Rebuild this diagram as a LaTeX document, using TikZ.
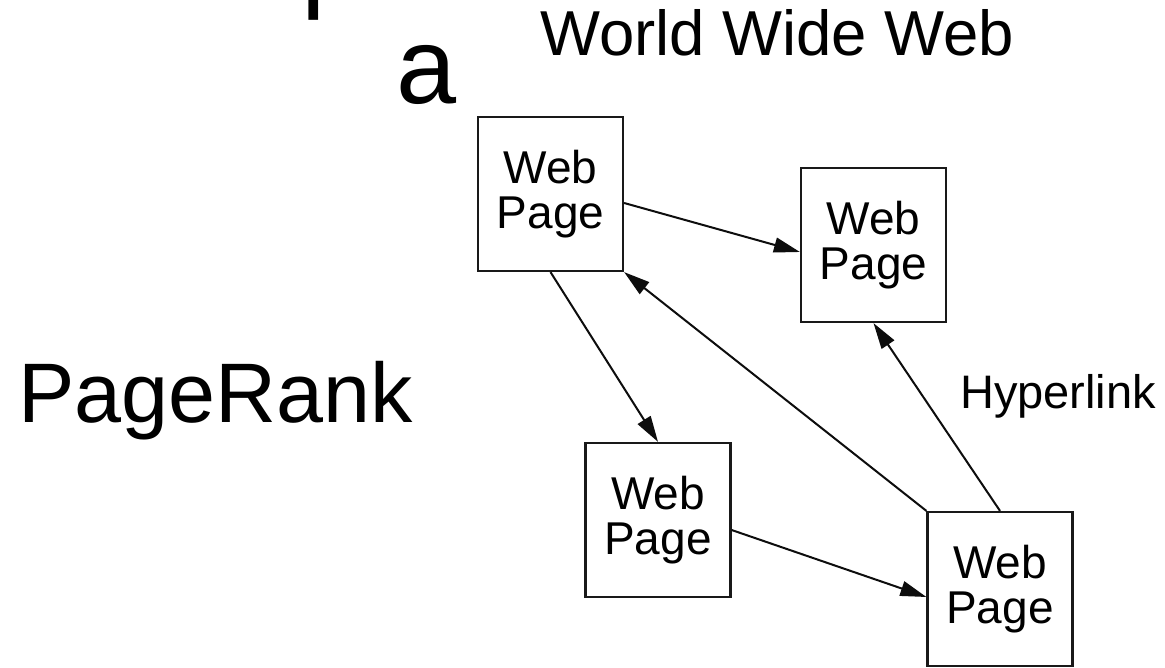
\documentclass[tikz,border=0pt]{standalone}
\usepackage{fontspec}
\setmainfont{Liberation Sans}
\usetikzlibrary{arrows.meta}
\begin{document}
\begin{tikzpicture}[x=1pt,y=1pt,
  pagebox/.style={draw=black!90, line width=2.2pt, fill=white,
    minimum width=145pt, minimum height=154pt, inner sep=0pt,
    align=center, font=\fontsize{46}{45.5}\selectfont},
  hlink/.style={draw=black!95, line width=2pt,
    -{Triangle[length=26pt,width=15pt]}},
  label/.style={anchor=base west, inner sep=0pt, text=black},
]
\clip (0,0) rectangle (1165,668);
\fill[white] (0,0) rectangle (1165,668);

% slide title (runs past the top edge)
\node[label, font=\fontsize{110}{112}\selectfont] (title) at (130,670) {Properties of the Web};
\node[label, font=\fontsize{108}{110}\selectfont] (tail) at (396,564) {a};
\node[label, font=\fontsize{84.5}{85}\selectfont] (pr) at (18,245) {PageRank};

% figure: the web as a graph of pages
\node[label, font=\fontsize{63.5}{64}\selectfont] (www) at (540,612) {World Wide Web};

\node[pagebox] (p1) at (550.5,474) {Web\\Page};
\node[pagebox] (p2) at (873.5,423) {Web\\Page};
\node[pagebox] (p3) at (658,148) {Web\\Page};
\node[pagebox] (p4) at (1000,79) {Web\\Page};

\draw[hlink] ([yshift=-9pt]p1.east) -- ([yshift=-7pt]p2.west);
\draw[hlink] (p1.south) -- (p3.north);
\draw[hlink] (p4.north west) -- (p1.south east);
\draw[hlink] (p4.north) -- (p2.south);
\draw[hlink] ([yshift=-10pt]p3.east) -- ([yshift=-8pt]p4.west);

\node[label, font=\fontsize{47}{47}\selectfont] (hl) at (960,259) {Hyperlink};
\end{tikzpicture}
\end{document}
